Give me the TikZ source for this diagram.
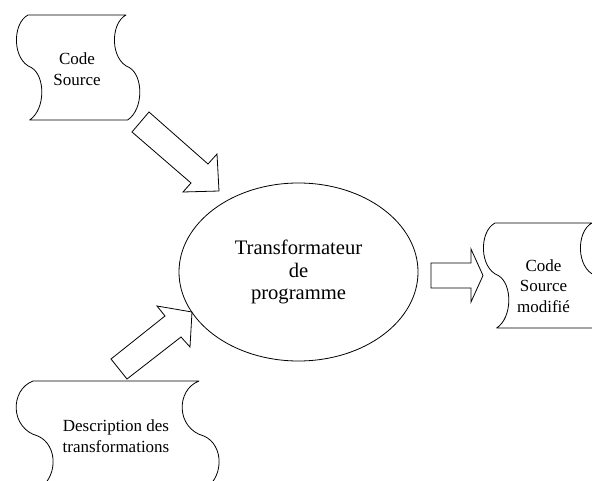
\documentclass[tikz,border=0pt]{standalone}
\usepackage{fontspec}
\setmainfont{Liberation Serif}
\usetikzlibrary{shapes.geometric}
\tikzset{
  tapeline/.style={draw=black, line width=0.8pt, line join=round},
  blockarrow/.style={draw=black, line width=0.8pt, line join=miter},
  smalltext/.style={font=\fontsize{17}{20.5}\selectfont, align=center, inner sep=0pt},
  bigtext/.style={font=\fontsize{20.6}{22.5}\selectfont, align=center},
  procnode/.style={ellipse, draw, line width=0.8pt, minimum width=239pt, minimum height=178pt, inner sep=0pt},
}
\newcommand\tapeshape[5]{%
  \begin{scope}[shift={(#1,#2)}]
  \draw[tapeline] (0,0) -- (#3,0)
   .. controls ({#3-1.45*#5},{0.08*#4}) and ({#3-1.45*#5},{0.43*#4}) .. ({#3+0.3*#5},{0.5*#4})
   .. controls ({#3+1.6*#5},{0.58*#4}) and ({#3+1.6*#5},{0.9*#4}) .. ({#3+0.15*#5},#4)
   -- ({0.15*#5},#4)
   .. controls ({1.6*#5},{0.9*#4}) and ({1.6*#5},{0.58*#4}) .. ({0.3*#5},{0.5*#4})
   .. controls ({-1.45*#5},{0.43*#4}) and ({-1.45*#5},{0.08*#4}) .. (0,0) -- cycle;
  \end{scope}}
\begin{document}
\begin{tikzpicture}[x=1pt,y=-1pt]
\useasboundingbox (0,0) rectangle (592,481);
\clip (0,0) rectangle (592,481);
% tape shapes
\tapeshape{28}{15}{98}{105}{11}
\tapeshape{495}{223}{97}{105}{11}
\tapeshape{33}{381}{166}{110}{16}
% texts
\node[smalltext] (src) at (77,69) {Code\\Source};
\node[smalltext] (mod) at (543.5,286) {Code\\Source\\modifié};
\node[smalltext] (desc) at (116,436) {Description des\\transformations};
\node[procnode, bigtext] (proc) at (298.5,272) {Transformateur\\de\\programme};
% block arrows
\draw[blockarrow] (132,132) -- (149,112) -- (208,164) -- (217,154) -- (219,191) -- (183,192) -- (191,183) -- cycle;
\draw[blockarrow] (111,359) -- (127,379) -- (181,337) -- (190,347) -- (192,312) -- (157,306) -- (165,316) -- cycle;
\draw[blockarrow] (431,263) -- (471,263) -- (471,249) -- (483,275.5) -- (471,302) -- (471,288) -- (431,288) -- cycle;
\end{tikzpicture}
\end{document}
